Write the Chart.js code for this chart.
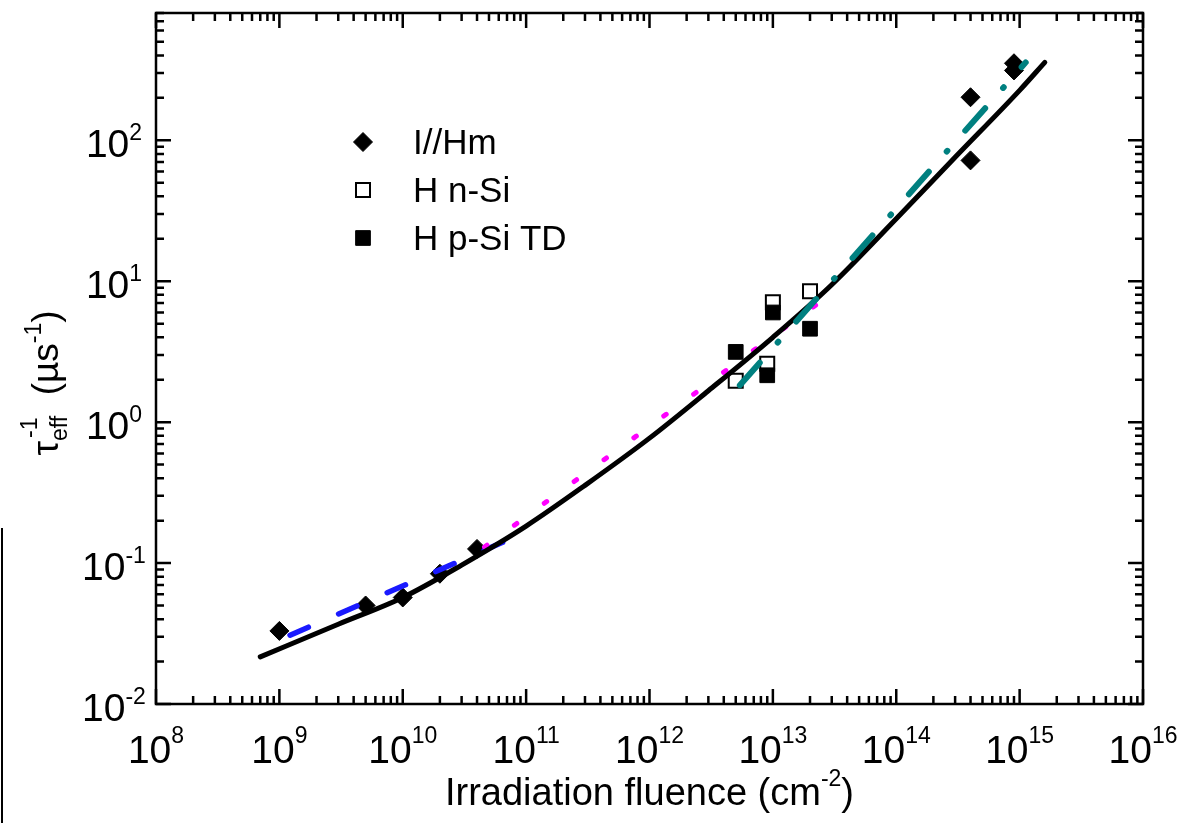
<!DOCTYPE html>
<html>
<head>
<meta charset="utf-8">
<script src="https://cdn.jsdelivr.net/npm/chart.js@4.4.0/dist/chart.umd.min.js"></script>
<style>
  body { margin: 0; background: #fff; }
  canvas { display: block; }
</style>
</head>
<body>
<canvas id="fluenceChart" width="1181" height="823"></canvas>
<script>
// data (fluence in cm^-2, 1/tau_eff in us^-1)
var hmX = [1e9, 5e9, 1e10, 2e10, 4e10, 4e14, 4e14, 9e14, 9e14];
var hmY = [0.033, 0.05, 0.057, 0.084, 0.126, 202, 72, 352, 313];

var nSiX = [5e12, 9e12, 1e13, 2e13];
var nSiY = [1.97, 2.6, 7.1, 8.5];

var pSiX = [5e12, 9e12, 1e13, 2e13];
var pSiY = [3.15, 2.15, 6.0, 4.6];

// solid black fit curve
var fitX = [7e8, 3e9, 1e10, 3e10, 1e11, 3e11, 1e12, 3e12, 1e13, 3e13, 1e14, 3e14, 1e15, 1.6e15];
var fitY = [0.0216, 0.0368, 0.057, 0.0968, 0.183, 0.356, 0.77, 1.67, 4.0, 9.44, 27.7, 75.7, 226, 357];

// partial power-law fits
var blueX = [1.22e9, 8.1e10];
var blueY = [0.0308, 0.153];
var pinkX = [4.6e10, 2.5e13];
var pinkY = [0.13, 7.3];
var tealX = [5.4e12, 1.12e15];
var tealY = [1.83, 357];

var xExp = [8, 9, 10, 11, 12, 13, 14, 15, 16];
var yExp = [-2, -1, 0, 1, 2];
var legendLabels = ["I//Hm", "H n-Si", "H p-Si TD"];

var FONT = '"Liberation Sans", Arial, sans-serif';

function pts(xs, ys) {
  return xs.map(function (x, i) { return { x: x, y: ys[i] }; });
}

function lineSet(xs, ys, color, width, dash) {
  return {
    type: 'scatter',
    data: pts(xs, ys),
    showLine: true,
    borderColor: color,
    borderWidth: width,
    borderDash: dash,
    borderCapStyle: 'round',
    borderJoinStyle: 'round',
    pointRadius: 0,
    pointHoverRadius: 0,
    cubicInterpolationMode: 'monotone'
  };
}

function drawPow(ctx, exp, x, y, align, expLift) {
  ctx.font = '39px ' + FONT;
  var wb = ctx.measureText('10').width;
  ctx.font = '23px ' + FONT;
  var we = ctx.measureText(exp).width;
  var start = align === 'center' ? x - (wb + we) / 2 : x - (wb + we);
  ctx.textAlign = 'left';
  ctx.textBaseline = 'alphabetic';
  ctx.font = '39px ' + FONT;
  ctx.fillText('10', start, y);
  ctx.font = '23px ' + FONT;
  ctx.fillText(exp, start + wb, y - expLift);
}

var framePlugin = {
  id: 'frame',
  afterDraw: function (chart) {
    var ctx = chart.ctx, a = chart.chartArea;
    var xs = chart.scales.x, ys = chart.scales.y;
    ctx.save();
    ctx.strokeStyle = '#000';
    ctx.fillStyle = '#000';
    ctx.lineWidth = 2.5;
    ctx.strokeRect(a.left, a.top, a.right - a.left, a.bottom - a.top);

    // inward ticks on all four sides
    ctx.beginPath();
    xExp.forEach(function (e) {
      for (var m = 1; m <= 9; m++) {
        var v = m * Math.pow(10, e);
        if (v > xs.max) break;
        var px = xs.getPixelForValue(v), len = m === 1 ? 15 : 8;
        ctx.moveTo(px, a.bottom); ctx.lineTo(px, a.bottom - len);
        ctx.moveTo(px, a.top); ctx.lineTo(px, a.top + len);
      }
    });
    yExp.forEach(function (e) {
      for (var m = 1; m <= 9; m++) {
        var v = m * Math.pow(10, e);
        if (v > ys.max) break;
        var py = ys.getPixelForValue(v), len = m === 1 ? 15 : 8;
        ctx.moveTo(a.left, py); ctx.lineTo(a.left + len, py);
        ctx.moveTo(a.right, py); ctx.lineTo(a.right - len, py);
      }
    });
    ctx.stroke();

    // tick labels
    xExp.forEach(function (e) {
      drawPow(ctx, String(e), xs.getPixelForValue(Math.pow(10, e)), 763, 'center', 20);
    });
    yExp.forEach(function (e) {
      var py = ys.getPixelForValue(Math.pow(10, e));
      drawPow(ctx, String(e), 114, py + 17, 'center', 17);
    });

    // x title
    ctx.font = '38px ' + FONT;
    var t1 = 'Irradiation fluence (cm';
    var w1 = ctx.measureText(t1).width;
    ctx.font = '23px ' + FONT;
    var w2 = ctx.measureText('-2').width;
    ctx.font = '38px ' + FONT;
    var w3 = ctx.measureText(')').width;
    var sx = (a.left + a.right) / 2 - (w1 + w2 + w3) / 2;
    ctx.textAlign = 'left';
    ctx.fillText(t1, sx, 805);
    ctx.font = '23px ' + FONT;
    ctx.fillText('-2', sx + w1, 786);
    ctx.font = '38px ' + FONT;
    ctx.fillText(')', sx + w1 + w2, 805);

    // y title, rotated
    ctx.save();
    ctx.translate(58, 383);
    ctx.rotate(-Math.PI / 2);
    var big = '37px ' + FONT, small = '23px ' + FONT;
    ctx.font = big; var wt = ctx.measureText('\u03c4').width;
    ctx.font = small; var we = ctx.measureText('eff').width, wm = ctx.measureText('-1').width;
    ctx.font = big; var wp = ctx.measureText('  (\u00b5s').width, wc = ctx.measureText(')').width;
    var total = wt + we + wp + wm + wc;
    var cx = -total / 2;
    ctx.font = big; ctx.fillText('\u03c4', cx, 0); cx += wt;
    ctx.font = small; ctx.fillText('eff', cx, 9); ctx.fillText('-1', cx + 3, -21); cx += we;
    ctx.font = big; ctx.fillText('  (\u00b5s', cx, 0); cx += wp;
    ctx.font = small; ctx.fillText('-1', cx, -17); cx += wm;
    ctx.font = big; ctx.fillText(')', cx, 0);
    ctx.restore();

    // legend
    var rows = [142, 190, 238];
    var setIdx = [6, 5, 4];
    ctx.font = '35px ' + FONT;
    ctx.textBaseline = 'middle';
    rows.forEach(function (ry, i) {
      var ds = chart.data.datasets[setIdx[i]];
      ctx.fillStyle = ds.backgroundColor;
      ctx.strokeStyle = ds.borderColor;
      ctx.lineWidth = ds.borderWidth;
      Chart.helpers.drawPoint(ctx, {
        pointStyle: ds.pointStyle, radius: ds.pointRadius,
        borderWidth: ds.borderWidth, rotation: 0
      }, 363, ry);
      ctx.fillStyle = '#000';
      ctx.fillText(legendLabels[i], 413, ry + 2);
    });

    // cropped neighbour-panel edge at far left
    ctx.lineWidth = 2;
    ctx.beginPath();
    ctx.moveTo(2, 528); ctx.lineTo(2, 823);
    ctx.stroke();
    ctx.restore();
  }
};

var ctxF = document.getElementById('fluenceChart').getContext('2d');
var fluenceChart = new Chart(ctxF, {
  type: 'scatter',
  data: {
    datasets: [
      lineSet(tealX, tealY, '#008080', 6, [30, 27, 1, 27]),
      lineSet(fitX, fitY, '#000000', 5, []),
      lineSet(pinkX, pinkY, '#ff00ff', 5, [3, 34]),
      lineSet(blueX, blueY, '#1a1aff', 5.5, [20, 33]),
      {
        label: legendLabels[2],
        data: pts(pSiX, pSiY),
        pointStyle: 'rect',
        pointRadius: 10.4,
        backgroundColor: '#000',
        borderColor: '#000',
        borderWidth: 1
      },
      {
        label: legendLabels[1],
        data: pts(nSiX, nSiY),
        pointStyle: 'rect',
        pointRadius: 9.9,
        backgroundColor: '#fff',
        borderColor: '#000',
        borderWidth: 2
      },
      {
        label: legendLabels[0],
        data: pts(hmX, hmY),
        pointStyle: 'rectRot',
        pointRadius: 9.5,
        backgroundColor: '#000',
        borderColor: '#000',
        borderWidth: 1
      }
    ]
  },
  options: {
    responsive: false,
    animation: false,
    layout: { padding: { left: 156, right: 38, top: 13, bottom: 119 } },
    plugins: { legend: { display: false }, tooltip: { enabled: false } },
    scales: {
      x: { type: 'logarithmic', min: 1e8, max: 1e16, display: false },
      y: { type: 'logarithmic', min: 0.01, max: 800, display: false }
    }
  },
  plugins: [framePlugin]
});
</script>
</body>
</html>
